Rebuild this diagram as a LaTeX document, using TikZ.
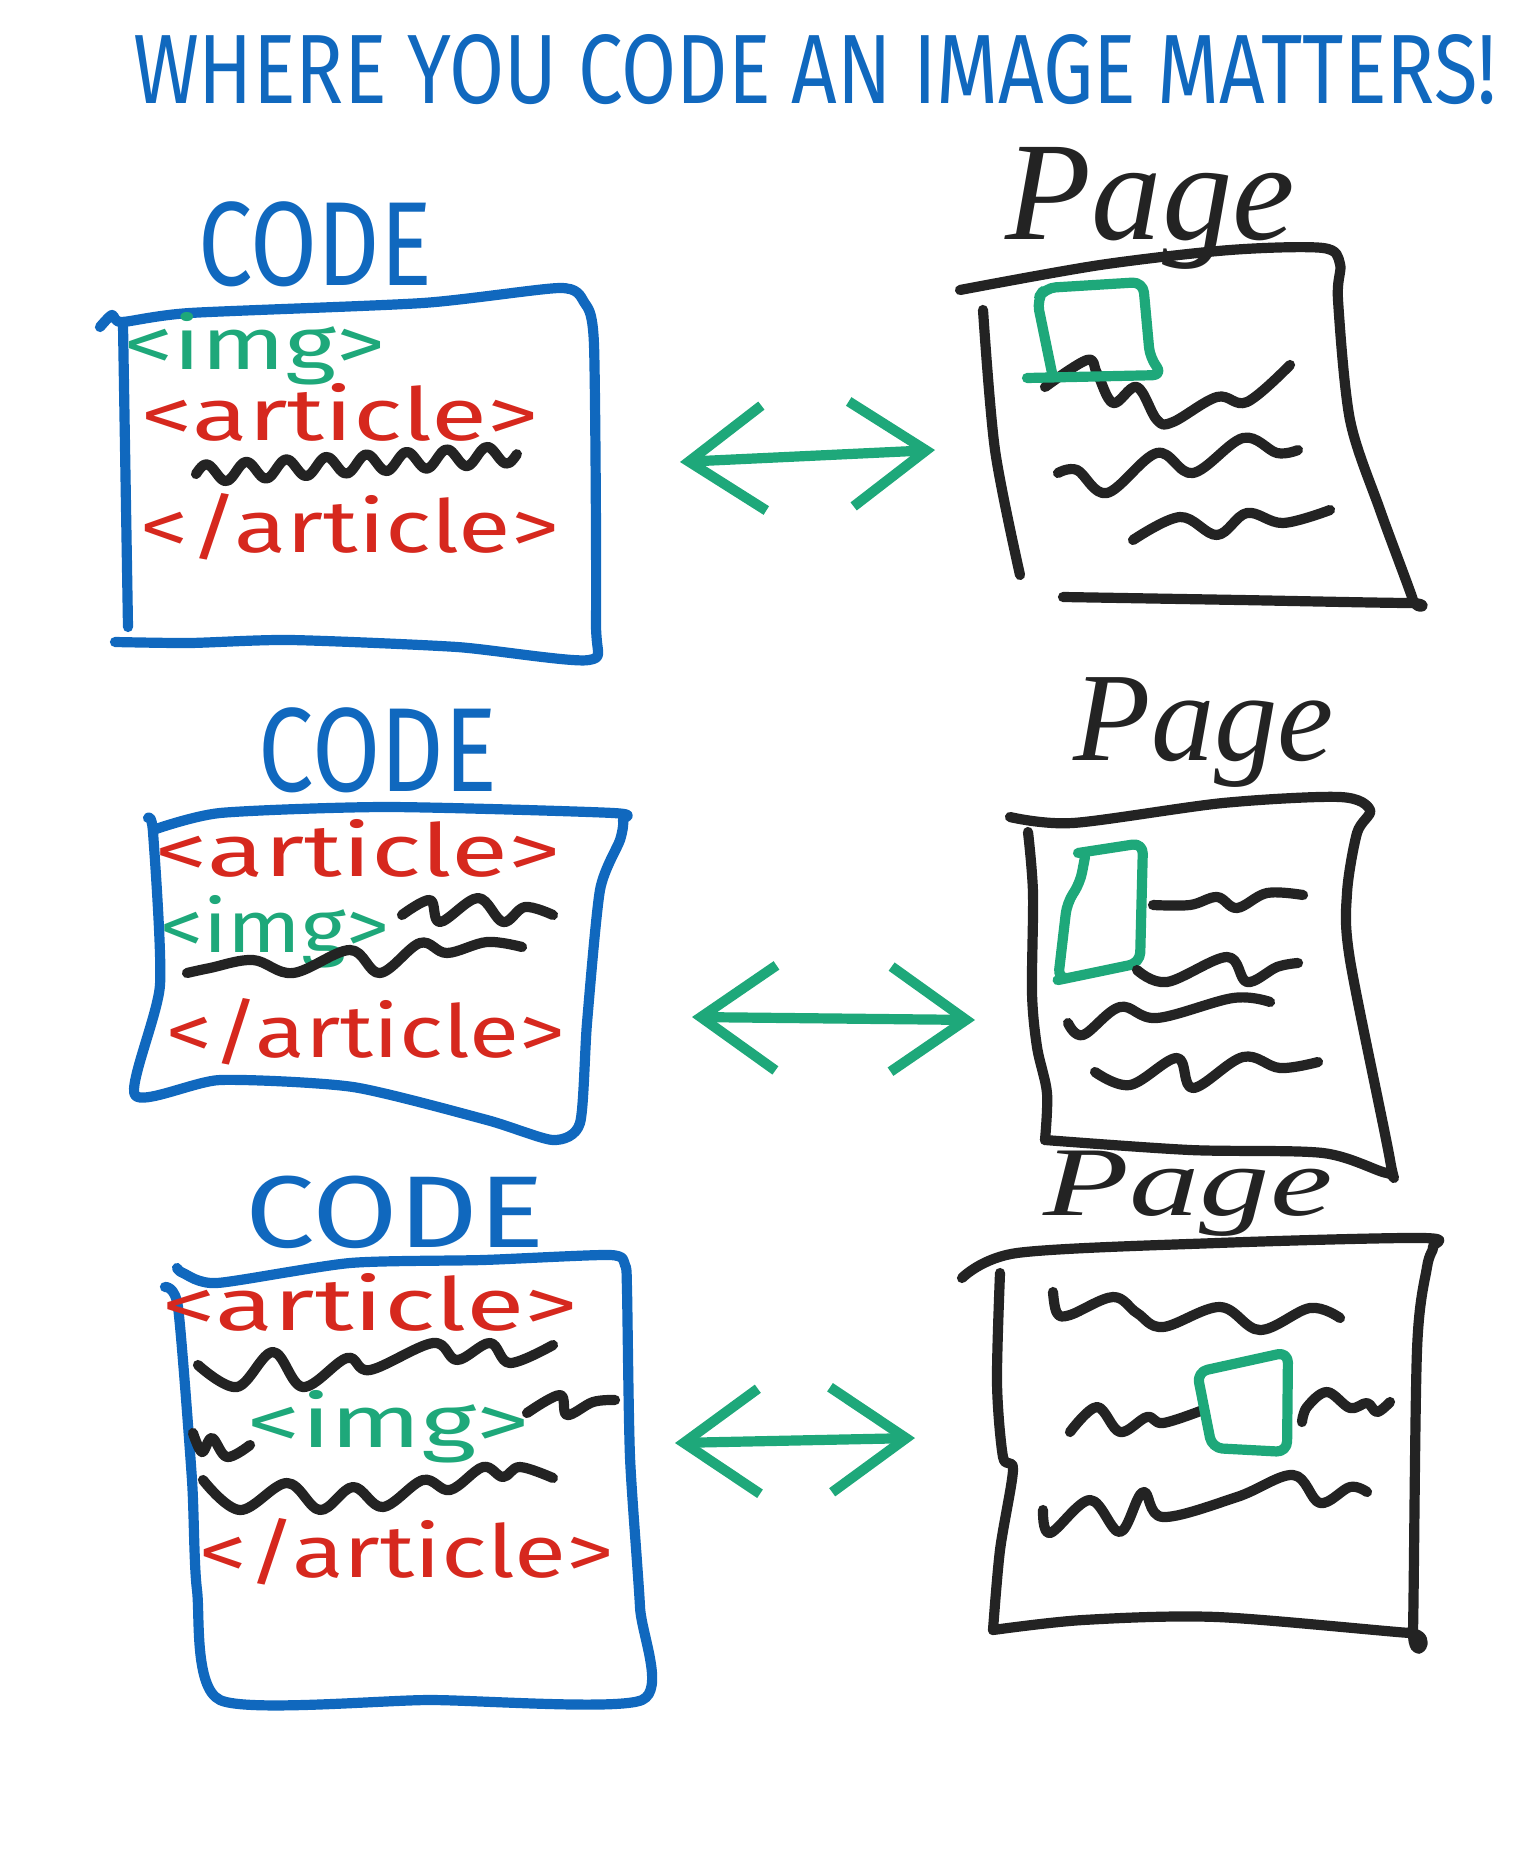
\documentclass[tikz,border=0pt]{standalone}
\usepackage{fontspec}
\setmainfont{Fira Sans}
\newfontfamily\pagefont{Liberation Serif}
\usetikzlibrary{arrows.meta, positioning}
\definecolor{penblue}{RGB}{16,104,190}
\definecolor{pengreen}{RGB}{30,168,122}
\definecolor{penred}{RGB}{214,40,30}
\definecolor{penblack}{RGB}{35,35,35}
\tikzstyle{pen} = [line width=2.9pt, line cap=round, line join=round]
\tikzstyle{codebox} = [pen, draw=penblue]
\tikzstyle{pagebox} = [pen, draw=penblack]
\tikzstyle{scribble} = [pen, draw=penblack]
\tikzstyle{imgbox} = [pen, draw=pengreen, rounded corners=3pt]
\tikzstyle{twoway} = [pen, draw=pengreen, {Straight Barb[length=0.75cm,width=1.05cm]}-{Straight Barb[length=0.75cm,width=1.05cm]}]
\tikzstyle{heading} = [text=penblue, inner sep=0pt, font=\fontsize{28}{28}\selectfont, xscale=0.81]
\tikzstyle{codelabel} = [text=penblue, inner sep=0pt, font=\fontsize{34}{34}\selectfont, xscale=0.81]
\tikzstyle{pagelabel} = [text=penblack, inner sep=0pt, anchor=base west, font=\pagefont\itshape\fontsize{40}{40}\selectfont]
\tikzstyle{tagred} = [text=penred, inner sep=0pt, anchor=base, yscale=0.8, font=\fontsize{26}{26}\selectfont]
\tikzstyle{taggreen} = [text=pengreen, inner sep=0pt, anchor=base, yscale=0.8, font=\fontsize{26}{26}\selectfont]

\begin{document}
\begin{tikzpicture}[x=0.01cm, y=-0.01cm]
    \useasboundingbox (0,0) rectangle (1536,1864);
    \node (title) [heading] at (815,70) {WHERE YOU CODE AN IMAGE MATTERS!};

    % img at the top of the article
    \node (code1) [codelabel] at (315,244) {CODE};
    \draw[codebox] plot[smooth, tension=0.4] coordinates {(100,327) (112,315) (122,322) (190,313) (423,303) (560,288) (584,302) (594,345) (596,620) (589,660) (457,647) (290,640) (190,643) (115,642)};
    \draw[codebox] (123,325) -- (128,627);
    \node (img1) [taggreen, xscale=1.07] at (255,370) {<img>};
    \node (art1) [tagred, xscale=1.12] at (340,440) {<article>};
    \draw[scribble] plot[domain=0:1, samples=90, smooth] ({196+321*\x}, {474-20*\x-9*sin(8*360*\x)});
    \node (end1) [tagred, xscale=1.05] at (350,552) {</article>};

    \coordinate (l1) at (680,462);
    \coordinate (r1) at (935,450);
    \draw[twoway] (l1) -- (r1);

    \node (page1) [pagelabel] at (1005,240) {Page};
    \draw[pagebox] plot[smooth, tension=0.5] coordinates {(960,290) (1100,265) (1230,250) (1323,248) (1340,264) (1338,300) (1350,420) (1380,510) (1413,600) (1410,603) (1240,600) (1063,597)};
    \draw[pagebox] plot[smooth] coordinates {(983,310) (995,450) (1020,575)};
    \draw[scribble] plot[smooth, tension=0.6] coordinates {(1045,387) (1087,360) (1097,373) (1113,403) (1137,387) (1157,420) (1173,422) (1217,397) (1247,402) (1290,365)};
    \draw[scribble] plot[smooth, tension=0.6] coordinates {(1058,473) (1077,470) (1107,493) (1157,453) (1193,473) (1243,438) (1277,453) (1298,450)};
    \draw[scribble] plot[smooth, tension=0.6] coordinates {(1133,540) (1180,517) (1217,535) (1247,513) (1283,523) (1330,510)};
    \draw[imgbox] (1027,378) -- (1163,375) -- (1150,358) -- (1143,282) -- (1045,288) -- (1037,300) -- (1052,373);

    % img in the middle of the article
    \node (code2) [codelabel, xscale=1.02] at (378,750) {CODE};
    \draw[codebox] plot[smooth, tension=0.4] coordinates {(148,818) (153,832) (160,985) (135,1095) (220,1080) (353,1087) (487,1120) (553,1140) (580,1123) (587,1023) (600,890) (620,840) (623,820) (613,813) (387,807) (220,813) (153,830)};
    \node (art2) [tagred, xscale=1.14] at (358,876) {<article>};
    \node (img2) [taggreen, xscale=0.94] at (275,952) {<img>};
    \draw[scribble] plot[smooth, tension=0.6] coordinates {(402,915) (430,900) (440,922) (478,898) (503,922) (525,907) (553,915)};
    \draw[scribble] plot[smooth, tension=0.6] coordinates {(187,973) (210,968) (253,960) (293,973) (350,950) (380,973) (420,943) (447,953) (487,942) (522,947)};
    \node (end2) [tagred] at (366,1057) {</article>};

    \coordinate (l2) at (692,1017);
    \coordinate (r2) at (975,1020);
    \draw[twoway] (l2) -- (r2);

    \node (page2) [pagelabel, font=\pagefont\itshape\fontsize{36}{36}\selectfont] at (1073,760) {Page};
    \draw[pagebox] plot[smooth, tension=0.5] coordinates {(1010,817) (1073,823) (1223,803) (1340,797) (1370,810) (1357,833) (1347,893) (1350,960) (1390,1160) (1387,1173) (1323,1153) (1190,1150) (1045,1140)};
    \draw[pagebox] plot[smooth, tension=0.5] coordinates {(1028,832) (1033,893) (1032,993) (1037,1047) (1047,1093) (1045,1140)};
    \draw[imgbox] (1078,853) -- (1143,843) -- (1140,963) -- (1068,978) -- (1058,980) -- (1067,903) -- (1080,883) -- (1085,857);
    \draw[scribble] plot[smooth, tension=0.6] coordinates {(1153,905) (1190,905) (1217,897) (1237,908) (1267,893) (1303,895)};
    \draw[scribble] plot[smooth, tension=0.6] coordinates {(1137,970) (1167,982) (1227,957) (1247,982) (1277,967) (1298,963)};
    \draw[scribble] plot[smooth, tension=0.6] coordinates {(1068,1023) (1083,1035) (1120,1007) (1157,1018) (1233,998) (1270,1002)};
    \draw[scribble] plot[smooth, tension=0.6] coordinates {(1095,1072) (1130,1085) (1177,1058) (1193,1088) (1243,1057) (1280,1068) (1318,1062)};

    % img inside the text of the article
    \node (code3) [codelabel, font=\fontsize{29}{29}\selectfont, xscale=1.5] at (395,1212) {CODE};
    \draw[codebox] plot[smooth, tension=0.4] coordinates {(177,1268) (183,1273) (217,1283) (350,1263) (483,1260) (610,1255) (625,1265) (627,1290) (630,1457) (640,1607) (642,1700) (430,1700) (220,1700) (197,1590) (192,1480) (178,1307) (165,1287)};
    \node (art3) [tagred, xscale=1.17] at (370,1330) {<article>};
    \draw[scribble] plot[smooth, tension=0.6] coordinates {(198,1365) (237,1387) (273,1352) (303,1387) (347,1358) (370,1370) (433,1343) (457,1360) (490,1343) (510,1363) (553,1345)};
    \draw[scribble] plot[smooth, tension=0.6] coordinates {(193,1433) (202,1452) (212,1438) (227,1457) (250,1445)};
    \node (img3) [taggreen, xscale=1.16] at (389,1447) {<img>};
    \draw[scribble] plot[smooth, tension=0.6] coordinates {(527,1413) (560,1395) (567,1415) (593,1402) (615,1400)};
    \draw[scribble] plot[smooth, tension=0.6] coordinates {(203,1480) (240,1510) (287,1483) (320,1510) (353,1487) (383,1507) (423,1480) (450,1490) (483,1467) (503,1477) (520,1467) (553,1478)};
    \node (end3) [tagred, xscale=1.04] at (407,1577) {</article>};

    \coordinate (l3) at (675,1443);
    \coordinate (r3) at (915,1438);
    \draw[twoway] (l3) -- (r3);

    \node (page3) [pagelabel, yscale=0.7] at (1043,1215) {Page};
    \draw[pagebox] plot[smooth, tension=0.5] coordinates {(962,1278) (1017,1253) (1217,1243) (1423,1238) (1433,1247) (1427,1267) (1417,1350) (1413,1630) (1410,1633) (1217,1617) (1083,1620) (993,1630)};
    \draw[pagebox] plot[smooth, tension=0.5] coordinates {(1000,1273) (997,1383) (1003,1457) (1013,1470) (1000,1550) (993,1630)};
    \draw[scribble] plot[smooth, tension=0.6] coordinates {(1053,1292) (1057,1313) (1070,1315) (1113,1297) (1137,1313) (1163,1327) (1220,1307) (1260,1330) (1310,1308) (1340,1318)};
    \draw[scribble] plot[smooth, tension=0.6] coordinates {(1070,1432) (1097,1407) (1120,1432) (1147,1417) (1163,1423) (1203,1410)};
    \draw[scribble] plot[smooth, tension=0.6] coordinates {(1302,1422) (1307,1407) (1327,1392) (1350,1408) (1367,1403) (1377,1412) (1390,1402)};
    \draw[scribble] plot[smooth, tension=0.6] coordinates {(1043,1510) (1050,1533) (1090,1500) (1120,1532) (1143,1492) (1163,1517) (1237,1497) (1293,1475) (1320,1503) (1350,1487) (1367,1492)};
    \draw[imgbox] (1197,1372) -- (1288,1352) -- (1287,1452) -- (1212,1448) -- cycle;
\end{tikzpicture}
\end{document}
